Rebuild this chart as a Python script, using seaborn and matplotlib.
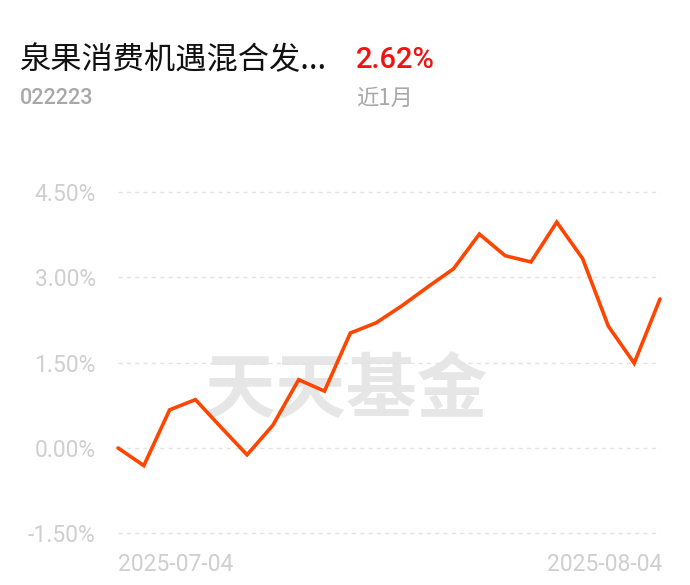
import matplotlib
matplotlib.use("Agg")
import matplotlib.pyplot as plt
import seaborn as sns
import pandas as pd

dates = ["2025-07-04", "2025-07-07", "2025-07-08", "2025-07-09", "2025-07-10", "2025-07-11",
         "2025-07-14", "2025-07-15", "2025-07-16", "2025-07-17", "2025-07-18",
         "2025-07-21", "2025-07-22", "2025-07-23", "2025-07-24", "2025-07-25",
         "2025-07-28", "2025-07-29", "2025-07-30", "2025-07-31", "2025-08-01", "2025-08-04"]
returns = [0.00, -0.31, 0.67, 0.85, 0.36, -0.12, 0.40, 1.20, 1.00, 2.02, 2.20,
           2.50, 2.83, 3.15, 3.76, 3.38, 3.27, 3.97, 3.33, 2.14, 1.49, 2.62]
yticks = [-1.5, 0.0, 1.5, 3.0, 4.5]
ytick_labels = ["-1.50%", "0.00%", "1.50%", "3.00%", "4.50%"]
fund_name = "泉果消费机遇混合发..."
fund_code = "022223"
period_return = "2.62%"
period_label = "近1月"
watermark = "天天基金"

sns.set_theme(style="white")
plt.rcParams["font.family"] = ["Roboto", "Noto Sans CJK SC", "DejaVu Sans"]

df = pd.DataFrame({"idx": range(len(dates)), "date": dates, "ret": returns})

fig = plt.figure(figsize=(6.9, 5.85), dpi=100)
ax = fig.add_axes([118 / 690, 1 - 533.3 / 585, 542 / 690, 341.3 / 585])

sns.lineplot(data=df, x="idx", y="ret", ax=ax, color="#FF4500", linewidth=2.6, zorder=3)
for l in ax.lines:
    l.set_clip_on(False)
    l.set_solid_joinstyle("miter")

ax.set_xlim(0, len(dates) - 1)
ax.set_ylim(-1.5, 4.5)
for yv in yticks:
    ax.axhline(yv, color="#e3e3e3", linewidth=1.0, linestyle=(0, (3, 3)), zorder=1, clip_on=False)

ax.set_yticks(yticks)
ax.set_yticklabels(ytick_labels)
ax.tick_params(axis="y", length=0, pad=16, labelsize=16.5, labelcolor="#cfcfcf")
ax.set_xticks([])
ax.set_xlabel("")
ax.set_ylabel("")
for s in ax.spines.values():
    s.set_visible(False)

ax.text(0, -0.09, dates[0], transform=ax.transAxes, ha="left", va="center",
        fontsize=16.5, color="#cfcfcf")
ax.text(1.005, -0.09, dates[-1], transform=ax.transAxes, ha="right", va="center",
        fontsize=16.5, color="#cfcfcf")

ax.text(0.4225, 0.416, watermark, transform=ax.transAxes, ha="center", va="center",
        fontsize=51, color="#e6e6e6", fontweight="heavy", family=["Noto Sans CJK SC"], zorder=0)

fig.text(20 / 690, 1 - 60 / 585, fund_name, ha="left", va="center", fontsize=22.5,
         color="#111111", family=["Noto Sans CJK SC", "DejaVu Sans"])
fig.text(356 / 690, 1 - 60 / 585, period_return, ha="left", va="center", fontsize=21,
         color="#f21212", fontweight="medium")
fig.text(20 / 690, 1 - 98 / 585, fund_code, ha="left", va="center", fontsize=15.5,
         color="#a8a8a8", fontweight="medium")
fig.text(356 / 690, 1 - 98 / 585, period_label, ha="left", va="center", fontsize=16,
         color="#a8a8a8", family=["Noto Sans CJK SC", "DejaVu Sans"])

fig.savefig("out.png", dpi=100, facecolor="white")
